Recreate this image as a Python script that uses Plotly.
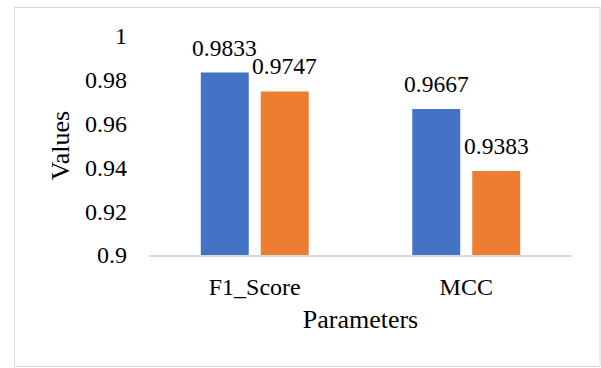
import plotly.graph_objects as go

categories = ["F1_Score", "MCC"]
series1_values = [0.9833, 0.9667]
series2_values = [0.9747, 0.9383]
series1_name = "Series1"
series2_name = "Series2"
y_ticks = [0.9, 0.92, 0.94, 0.96, 0.98, 1.0]
y_tick_labels = ["0.9", "0.92", "0.94", "0.96", "0.98", "1"]

BLUE = "#4472C4"
ORANGE = "#ED7D31"
FONT = "Liberation Serif"
BARGAP = 0.433

fig = go.Figure()
fig.add_trace(go.Bar(x=categories, y=series1_values, name=series1_name,
                     marker=dict(color=BLUE, line=dict(width=0))))
fig.add_trace(go.Bar(x=categories, y=series2_values, name=series2_name,
                     marker=dict(color=ORANGE, line=dict(width=0))))

off = (1 - BARGAP) / 4
for i, (a, b) in enumerate(zip(series1_values, series2_values)):
    for val, dx in ((a, -off), (b, off)):
        fig.add_annotation(x=i + dx, y=val, xref="x", yref="y",
                           text=f"{val:.4f}", showarrow=False,
                           yanchor="bottom", yshift=10,
                           font=dict(family=FONT, size=23.5, color="#000000"))

fig.add_shape(type="rect", xref="paper", yref="paper",
              x0=(14.5 - 149) / 423, x1=(600 - 149) / 423,
              y0=(255 - 366.5) / 219, y1=(255 - 7.5) / 219,
              line=dict(color="#d9d9d9", width=1), fillcolor="rgba(0,0,0,0)",
              layer="below")

fig.update_layout(
    width=601, height=368,
    margin=dict(l=149, r=29, t=36, b=113, autoexpand=False),
    paper_bgcolor="white", plot_bgcolor="white",
    showlegend=False,
    barmode="group", bargap=BARGAP, bargroupgap=0.2,
    font=dict(family=FONT, size=24, color="#000000"),
)
fig.update_xaxes(
    showgrid=False, showline=True, linecolor="#d9d9d9", linewidth=1.5,
    ticks="", ticklabelstandoff=9,
    tickfont=dict(family=FONT, size=24, color="#000000"),
    title=dict(text="Parameters", font=dict(family=FONT, size=26, color="#000000"), standoff=11),
    automargin=False,
)
fig.update_yaxes(
    range=[0.9, 1.0], tickvals=y_ticks, ticktext=y_tick_labels,
    showgrid=False, showline=False, zeroline=False, ticks="",
    ticklabelstandoff=21,
    tickfont=dict(family=FONT, size=24, color="#000000"),
    title=dict(text="Values", font=dict(family=FONT, size=26, color="#000000"), standoff=7),
    automargin=False,
)

fig.write_html("out.html", config={"displayModeBar": False},
               post_script="document.body.style.margin='0';")
